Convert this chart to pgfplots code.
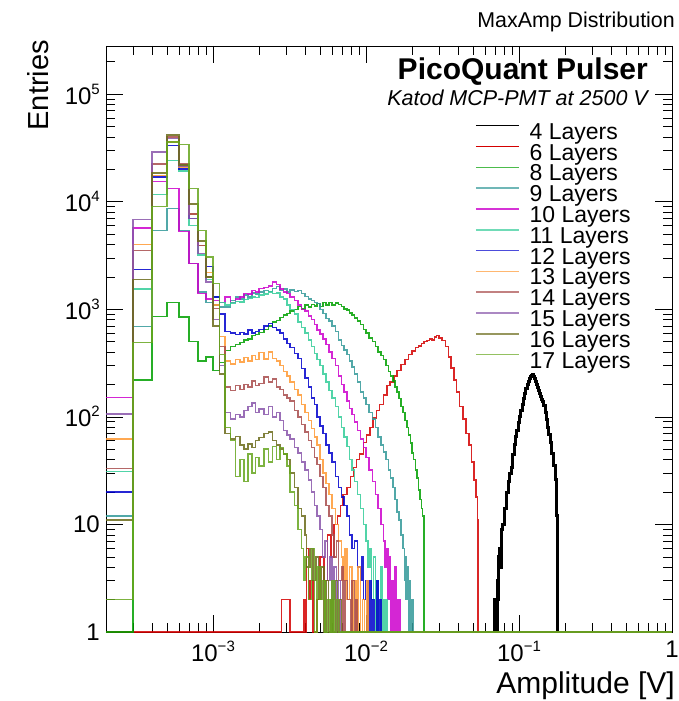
\documentclass[border=0pt]{standalone}
\usepackage{pgfplots}
\pgfplotsset{compat=1.18}
\usepackage{fontspec}
\setmainfont{Liberation Sans}
\definecolor{c4}{HTML}{000000}
\definecolor{c6}{HTML}{D40000}
\definecolor{c8}{HTML}{00A000}
\definecolor{c9}{HTML}{339999}
\definecolor{c10}{HTML}{CC00CC}
\definecolor{c11}{HTML}{33CC99}
\definecolor{c12}{HTML}{0000CC}
\definecolor{c13}{HTML}{FF9933}
\definecolor{c14}{HTML}{A84C4C}
\definecolor{c15}{HTML}{8855AA}
\definecolor{c16}{HTML}{6B6B1A}
\definecolor{c17}{HTML}{66A61E}
\newcommand{\tsup}[1]{\raisebox{0.42em}{\fontsize{15bp}{15bp}\selectfont #1}}
\pgfplotsset{hist/.style={const plot, line width=1.5pt, opacity=0.85, forget plot}}
\begin{document}
\begin{tikzpicture}
\useasboundingbox (-106bp,-69bp) rectangle (573bp,632bp);
\begin{axis}[
  scale only axis, width=566bp, height=586bp,
  xmode=log, ymode=log,
  xmin=2e-4, xmax=1, ymin=1, ymax=2.8e5,
  xtick={1e-3,1e-2,1e-1,1},
  xticklabels={10\tsup{−3},10\tsup{−2},10\tsup{−1},1},
  ytick={1,10,100,1000,10000,100000},
  yticklabels={1,10,10\tsup{2},10\tsup{3},10\tsup{4},10\tsup{5}},
  minor xtick={2e-4,3e-4,4e-4,5e-4,6e-4,7e-4,8e-4,9e-4,2e-3,3e-3,4e-3,5e-3,6e-3,7e-3,8e-3,9e-3,0.02,0.03,0.04,0.05,0.06,0.07,0.08,0.09,0.2,0.3,0.4,0.5,0.6,0.7,0.8,0.9},
  minor ytick={2,3,4,5,6,7,8,9,20,30,40,50,60,70,80,90,200,300,400,500,600,700,800,900,2000,3000,4000,5000,6000,7000,8000,9000,20000,30000,40000,50000,60000,70000,80000,90000,200000},
  tick pos=both, tick align=inside,
  xticklabel pos=lower, yticklabel pos=left,
  major tick length=17bp, minor tick length=9bp,
  every tick/.style={black, line width=0.6pt},
  axis line style={line width=0.8pt},
  ticklabel style={font=\fontsize{24bp}{24bp}\selectfont, inner sep=0pt},
  xticklabel style={yshift=-9bp},
  yticklabel style={xshift=-6bp},
  legend style={at={(0.652,0.868)}, anchor=north west, draw=none, fill=none,
    font=\fontsize{23bp}{23bp}\selectfont, inner sep=0pt, outer sep=0pt,
    row sep=0pt, column sep=10bp,
    nodes={inner sep=0pt, text height=16bp, text depth=4.8bp}},
  legend cell align=left,
  legend image code/.code={\draw[#1] (0bp,8bp) -- (43bp,8bp);},
  legend entries={4 Layers,6 Layers,8 Layers,9 Layers,10 Layers,11 Layers,12 Layers,13 Layers,14 Layers,15 Layers,16 Layers,17 Layers},
]
\addlegendimage{c4, line width=1pt}
\addlegendimage{c6, line width=1.2pt}
\addlegendimage{c8, line width=1.6pt, opacity=0.7}
\addlegendimage{c9, line width=1.6pt, opacity=0.7}
\addlegendimage{c10, line width=1.6pt, opacity=0.8}
\addlegendimage{c11, line width=1.6pt, opacity=0.7}
\addlegendimage{c12, line width=1.6pt, opacity=0.7}
\addlegendimage{c13, line width=1.6pt, opacity=0.7}
\addlegendimage{c14, line width=1.6pt, opacity=0.7}
\addlegendimage{c15, line width=1.6pt, opacity=0.7}
\addlegendimage{c16, line width=1.6pt, opacity=0.7}
\addlegendimage{c17, line width=1.6pt, opacity=0.7}

% 4 Layers
\addplot[hist, c4, line width=3pt, opacity=1] table[row sep=\\, x expr=\thisrowno{0}/1000, y index=1] {
69 1\\ 69.5 2\\ 71 1\\ 72 3\\ 73 2\\ 74 5\\ 75 6\\ 76 4\\ 77 9\\ 78 10\\ 80 12\\ 81 14\\ 83 20\\ 85 25\\ 87 30\\ 89 34\\ 91 45\\ 93 55\\ 95 65\\ 97 75\\ 99 88\\ 101 100\\ 103 115\\ 105 130\\ 107 148\\ 109 165\\ 111 185\\ 113 200\\ 115 215\\ 117 225\\ 119 235\\ 121 240\\ 123 245\\ 125 238\\ 127 228\\ 129 215\\ 131 200\\ 133 188\\ 135 175\\ 137 165\\ 139 155\\ 141 145\\ 143 138\\ 145 128\\ 148 110\\ 151 95\\ 154 80\\ 157 68\\ 160 58\\ 164 46\\ 168 35\\ 172 26\\ 175 18\\ 177 12\\ 178 6\\ 179 1\\
};
% 6 Layers
\addplot[hist, c6] table[row sep=\\, x expr=\thisrowno{0}/1000, y index=1] {
0.2 1\\ 2.8 2\\ 3.2 1\\ 3.9 2\\ 4.0 1\\ 4.1 6\\ 4.2 2\\ 4.3 3\\ 4.5 1\\ 4.8 2\\ 5.0 5\\ 5.3 3\\ 5.6 8\\ 5.9 5\\ 6.2 10\\ 6.5 12\\ 6.8 15\\ 7.1 19\\ 7.5 22\\ 7.9 28\\ 8.3 34\\ 8.7 40\\ 9.1 45\\ 9.6 58\\ 10.1 68\\ 10.6 80\\ 11.1 98\\ 11.7 115\\ 12.3 130\\ 13.0 160\\ 13.7 195\\ 14.4 210\\ 15.2 240\\ 16 270\\ 17 305\\ 18 340\\ 19 380\\ 20 410\\ 21 440\\ 22 455\\ 23 480\\ 24 500\\ 25 515\\ 26 530\\ 27 520\\ 28 550\\ 29 570\\ 30 540\\ 31.5 510\\ 33 450\\ 34.5 360\\ 36 285\\ 37.5 220\\ 39 170\\ 41 125\\ 43 95\\ 45 70\\ 47 55\\ 49 38\\ 51 26\\ 52.5 18\\ 53.5 11\\ 54 1\\ 1000 1\\
};
% 8 Layers
\addplot[hist, c8] table[row sep=\\, x expr=\thisrowno{0}/1000, y index=1] {
0.2 1\\ 0.3 220\\ 0.4 860\\ 0.5 1150\\ 0.6 850\\ 0.7 500\\ 0.8 330\\ 0.9 360\\ 1.0 270\\ 1.1 320\\ 1.2 415\\ 1.3 450\\ 1.4 470\\ 1.5 490\\ 1.6 520\\ 1.7 530\\ 1.8 570\\ 1.9 580\\ 2.0 610\\ 2.15 650\\ 2.3 700\\ 2.45 760\\ 2.6 790\\ 2.75 840\\ 2.9 880\\ 3.05 910\\ 3.2 960\\ 3.4 1000\\ 3.6 1060\\ 3.8 1010\\ 4.0 1090\\ 4.2 1050\\ 4.4 1110\\ 4.6 1070\\ 4.8 1130\\ 5.0 1060\\ 5.25 1150\\ 5.5 1090\\ 5.75 1160\\ 6.0 1100\\ 6.3 1140\\ 6.6 1110\\ 6.9 1060\\ 7.2 1010\\ 7.5 980\\ 7.8 920\\ 8.1 880\\ 8.4 830\\ 8.8 780\\ 9.2 720\\ 9.6 650\\ 10 600\\ 10.5 540\\ 11 500\\ 11.5 450\\ 12 400\\ 12.5 370\\ 13 340\\ 13.5 300\\ 14 265\\ 14.5 240\\ 15 215\\ 15.5 190\\ 16 170\\ 16.5 148\\ 17 125\\ 17.5 110\\ 18 92\\ 18.5 80\\ 19 68\\ 19.5 57\\ 20 46\\ 20.5 40\\ 21 32\\ 21.5 27\\ 22 21\\ 22.5 17\\ 23 14\\ 23.5 12\\ 24 1\\ 1000 1\\
};
% 9 Layers
\addplot[hist, c9] table[row sep=\\, x expr=\thisrowno{0}/1000, y index=1] {
0.2 12\\ 0.3 690\\ 0.4 5400\\ 0.5 8600\\ 0.6 5400\\ 0.7 2650\\ 0.8 1450\\ 0.9 1150\\ 1.0 1100\\ 1.1 1050\\ 1.2 1050\\ 1.3 1200\\ 1.4 1300\\ 1.5 1250\\ 1.6 1350\\ 1.7 1300\\ 1.8 1420\\ 1.9 1380\\ 2.0 1450\\ 2.15 1500\\ 2.3 1470\\ 2.45 1560\\ 2.6 1620\\ 2.75 1500\\ 2.9 1550\\ 3.05 1450\\ 3.2 1510\\ 3.4 1470\\ 3.6 1500\\ 3.8 1400\\ 4.0 1310\\ 4.2 1250\\ 4.4 1200\\ 4.6 1150\\ 4.8 1130\\ 5.0 1000\\ 5.25 910\\ 5.5 820\\ 5.75 780\\ 6.0 700\\ 6.3 620\\ 6.6 520\\ 6.9 460\\ 7.2 420\\ 7.5 380\\ 7.8 330\\ 8.1 290\\ 8.4 250\\ 8.8 210\\ 9.2 170\\ 9.6 150\\ 10 130\\ 10.5 110\\ 11 95\\ 11.5 80\\ 12 65\\ 12.5 55\\ 13 47\\ 13.5 40\\ 14 32\\ 14.5 27\\ 15 22\\ 15.5 17\\ 16 13\\ 16.5 11\\ 17 8\\ 17.5 6\\ 17.8 3\\ 18 5\\ 18.3 2\\ 18.6 4\\ 18.9 1\\ 19.1 3\\ 19.4 1\\ 19.7 2\\ 20.1 1\\ 20.3 2\\ 20.5 1\\ 1000 1\\
};
% 10 Layers
\addplot[hist, c10] table[row sep=\\, x expr=\thisrowno{0}/1000, y index=1] {
0.2 151\\ 0.3 5680\\ 0.4 15400\\ 0.5 13300\\ 0.6 5300\\ 0.7 2660\\ 0.8 1400\\ 0.9 1250\\ 1.0 1200\\ 1.1 1150\\ 1.2 1300\\ 1.3 1150\\ 1.4 1250\\ 1.5 1300\\ 1.6 1400\\ 1.7 1380\\ 1.8 1500\\ 1.9 1450\\ 2.0 1560\\ 2.15 1600\\ 2.3 1650\\ 2.45 1790\\ 2.6 1700\\ 2.75 1550\\ 2.9 1450\\ 3.05 1400\\ 3.2 1300\\ 3.4 1200\\ 3.6 1100\\ 3.8 1000\\ 4.0 960\\ 4.2 870\\ 4.4 800\\ 4.6 720\\ 4.8 640\\ 5.0 590\\ 5.25 530\\ 5.5 470\\ 5.75 400\\ 6.0 350\\ 6.3 300\\ 6.6 240\\ 6.9 200\\ 7.2 170\\ 7.5 140\\ 7.8 120\\ 8.1 105\\ 8.4 90\\ 8.8 75\\ 9.2 62\\ 9.6 52\\ 10 42\\ 10.5 32\\ 11 25\\ 11.5 19\\ 12 14\\ 12.5 10\\ 13 7\\ 13.3 4\\ 13.6 6\\ 13.9 2\\ 14.2 5\\ 14.5 1\\ 14.8 3\\ 15.1 1\\ 15.4 4\\ 15.7 1\\ 16 2\\ 16.3 1\\ 16.5 2\\ 16.7 1\\ 1000 1\\
};
% 11 Layers
\addplot[hist, c11] table[row sep=\\, x expr=\thisrowno{0}/1000, y index=1] {
0.2 31\\ 0.3 1550\\ 0.4 11700\\ 0.5 24100\\ 0.6 19200\\ 0.7 6000\\ 0.8 3200\\ 0.9 1900\\ 1.0 1300\\ 1.1 1150\\ 1.2 1100\\ 1.3 1140\\ 1.4 1180\\ 1.5 1170\\ 1.6 1230\\ 1.7 1260\\ 1.8 1300\\ 1.9 1280\\ 2.0 1350\\ 2.15 1380\\ 2.3 1440\\ 2.45 1400\\ 2.6 1420\\ 2.75 1300\\ 2.9 1250\\ 3.05 1100\\ 3.2 1000\\ 3.4 900\\ 3.6 760\\ 3.8 680\\ 4.0 600\\ 4.2 520\\ 4.4 450\\ 4.6 390\\ 4.8 340\\ 5.0 300\\ 5.25 250\\ 5.5 210\\ 5.75 175\\ 6.0 150\\ 6.3 125\\ 6.6 100\\ 6.9 80\\ 7.2 65\\ 7.5 53\\ 7.8 40\\ 8.1 32\\ 8.4 25\\ 8.8 19\\ 9.2 14\\ 9.6 10\\ 10 7\\ 10.3 4\\ 10.6 6\\ 10.9 2\\ 11.2 5\\ 11.5 1\\ 11.8 3\\ 12.1 1\\ 12.4 4\\ 12.7 1\\ 13 2\\ 13.3 1\\ 13.6 2\\ 13.8 1\\ 1000 1\\
};
% 12 Layers
\addplot[hist, c12] table[row sep=\\, x expr=\thisrowno{0}/1000, y index=1] {
0.2 20\\ 0.3 2340\\ 0.4 16900\\ 0.5 33200\\ 0.6 20200\\ 0.7 7000\\ 0.8 3900\\ 0.9 2500\\ 1.0 1300\\ 1.1 900\\ 1.2 620\\ 1.3 600\\ 1.4 580\\ 1.5 610\\ 1.6 590\\ 1.7 640\\ 1.8 600\\ 1.9 620\\ 2.0 650\\ 2.15 700\\ 2.3 740\\ 2.45 680\\ 2.6 640\\ 2.75 600\\ 2.9 530\\ 3.05 480\\ 3.2 440\\ 3.4 390\\ 3.6 350\\ 3.8 280\\ 4.0 230\\ 4.2 190\\ 4.4 150\\ 4.6 130\\ 4.8 100\\ 5.0 82\\ 5.25 70\\ 5.5 55\\ 5.75 46\\ 6.0 38\\ 6.3 28\\ 6.6 22\\ 6.9 18\\ 7.2 15\\ 7.5 12\\ 7.8 8\\ 8.1 6\\ 8.4 7\\ 8.8 4\\ 9.2 3\\ 9.4 5\\ 9.6 2\\ 9.9 3\\ 10.2 1\\ 10.5 3\\ 10.8 1\\ 11.1 2\\ 11.4 1\\ 11.7 3\\ 12 1\\ 12.3 2\\ 12.5 1\\ 1000 1\\
};
% 13 Layers
\addplot[hist, c13] table[row sep=\\, x expr=\thisrowno{0}/1000, y index=1] {
0.2 62\\ 0.3 4000\\ 0.4 17500\\ 0.5 36000\\ 0.6 21000\\ 0.7 7700\\ 0.8 3900\\ 0.9 2200\\ 1.0 1100\\ 1.1 560\\ 1.2 330\\ 1.3 310\\ 1.4 340\\ 1.5 325\\ 1.6 355\\ 1.7 330\\ 1.8 370\\ 1.9 340\\ 2.0 395\\ 2.15 345\\ 2.3 400\\ 2.45 350\\ 2.6 330\\ 2.75 300\\ 2.9 265\\ 3.05 240\\ 3.2 210\\ 3.4 180\\ 3.6 160\\ 3.8 130\\ 4.0 110\\ 4.2 92\\ 4.4 78\\ 4.6 65\\ 4.8 55\\ 5.0 40\\ 5.25 30\\ 5.5 24\\ 5.75 19\\ 6.0 14\\ 6.3 10\\ 6.6 7\\ 6.9 5\\ 7.1 3\\ 7.3 6\\ 7.5 2\\ 7.8 4\\ 8.1 1\\ 8.3 3\\ 8.6 1\\ 8.9 4\\ 9.2 1\\ 9.5 2\\ 9.8 1\\ 10.1 3\\ 10.3 1\\ 1000 1\\
};
% 14 Layers
\addplot[hist, c14] table[row sep=\\, x expr=\thisrowno{0}/1000, y index=1] {
0.2 33\\ 0.3 3520\\ 0.4 22500\\ 0.5 40000\\ 0.6 22500\\ 0.7 7700\\ 0.8 3900\\ 0.9 2000\\ 1.0 1020\\ 1.1 450\\ 1.2 190\\ 1.3 175\\ 1.4 195\\ 1.5 180\\ 1.6 200\\ 1.7 190\\ 1.8 215\\ 1.9 195\\ 2.0 205\\ 2.15 235\\ 2.3 210\\ 2.45 225\\ 2.6 190\\ 2.75 180\\ 2.9 160\\ 3.05 150\\ 3.2 140\\ 3.4 115\\ 3.6 100\\ 3.8 85\\ 4.0 72\\ 4.2 60\\ 4.4 52\\ 4.6 42\\ 4.8 36\\ 5.0 28\\ 5.25 22\\ 5.5 15\\ 5.75 12\\ 6.0 8\\ 6.2 5\\ 6.4 7\\ 6.6 3\\ 6.9 4\\ 7.1 1\\ 7.3 3\\ 7.6 2\\ 7.9 1\\ 8.1 3\\ 8.4 1\\ 8.6 2\\ 8.8 1\\ 1000 1\\
};
% 15 Layers
\addplot[hist, c15] table[row sep=\\, x expr=\thisrowno{0}/1000, y index=1] {
0.2 106\\ 0.3 6800\\ 0.4 29000\\ 0.5 38600\\ 0.6 21500\\ 0.7 7000\\ 0.8 3300\\ 0.9 1800\\ 1.0 800\\ 1.1 300\\ 1.2 110\\ 1.3 95\\ 1.4 105\\ 1.5 100\\ 1.6 115\\ 1.7 125\\ 1.8 134\\ 1.9 110\\ 2.0 118\\ 2.15 105\\ 2.3 125\\ 2.45 100\\ 2.6 110\\ 2.75 92\\ 2.9 75\\ 3.05 68\\ 3.2 62\\ 3.4 52\\ 3.6 46\\ 3.8 38\\ 4.0 32\\ 4.2 26\\ 4.4 20\\ 4.6 15\\ 4.8 12\\ 5.0 9\\ 5.2 5\\ 5.4 7\\ 5.6 3\\ 5.8 5\\ 6.0 2\\ 6.2 4\\ 6.4 1\\ 6.6 3\\ 6.8 1\\ 1000 1\\
};
% 16 Layers
\addplot[hist, c16] table[row sep=\\, x expr=\thisrowno{0}/1000, y index=1] {
0.2 11\\ 0.3 1900\\ 0.4 18400\\ 0.5 41800\\ 0.6 22000\\ 0.7 9550\\ 0.8 4300\\ 0.9 2000\\ 1.0 700\\ 1.1 250\\ 1.2 70\\ 1.3 62\\ 1.4 66\\ 1.5 55\\ 1.6 50\\ 1.7 56\\ 1.8 52\\ 1.9 60\\ 2.0 64\\ 2.15 70\\ 2.3 72\\ 2.45 60\\ 2.6 55\\ 2.75 50\\ 2.9 45\\ 3.05 40\\ 3.2 30\\ 3.4 22\\ 3.6 14\\ 3.8 12\\ 4.0 8\\ 4.1 4\\ 4.3 6\\ 4.5 3\\ 4.7 5\\ 4.9 2\\ 5.1 4\\ 5.3 1\\ 5.5 3\\ 5.7 1\\ 5.9 2\\ 6.1 1\\ 6.3 3\\ 6.5 1\\ 6.7 2\\ 6.9 1\\ 1000 1\\
};
% 17 Layers
\addplot[hist, c17] table[row sep=\\, x expr=\thisrowno{0}/1000, y index=1] {
0.2 2\\ 0.3 493\\ 0.4 9000\\ 0.5 36000\\ 0.6 34000\\ 0.7 13200\\ 0.8 5400\\ 0.9 3060\\ 1.0 1730\\ 1.1 380\\ 1.2 80\\ 1.3 60\\ 1.4 28\\ 1.5 40\\ 1.6 25\\ 1.7 45\\ 1.8 30\\ 1.9 42\\ 2.0 35\\ 2.15 50\\ 2.3 38\\ 2.45 53\\ 2.6 40\\ 2.75 52\\ 2.9 45\\ 3.05 35\\ 3.2 20\\ 3.4 15\\ 3.6 9\\ 3.8 6\\ 3.9 3\\ 4.0 5\\ 4.2 2\\ 4.4 6\\ 4.6 1\\ 4.8 4\\ 5.0 2\\ 5.2 3\\ 5.4 1\\ 5.6 2\\ 5.8 1\\ 6.0 3\\ 6.2 1\\ 6.4 2\\ 6.6 1\\ 1000 1\\
};
\end{axis}
\node[anchor=east, inner sep=0pt, font=\fontsize{21.4bp}{21.4bp}\selectfont] at (569bp,610bp) {MaxAmp Distribution};
\node[anchor=east, inner sep=0pt, font=\bfseries\fontsize{30bp}{30bp}\selectfont] at (542bp,560bp) {PicoQuant Pulser};
\node[anchor=east, inner sep=0pt, font=\itshape\fontsize{21.5bp}{21.5bp}\selectfont] at (542bp,534bp) {Katod MCP-PMT at 2500 V};
\node[anchor=east, rotate=90, inner sep=0pt, font=\fontsize{29bp}{29bp}\selectfont] at (-68bp,592bp) {Entries};
\node[anchor=east, inner sep=0pt, font=\fontsize{30bp}{30bp}\selectfont] at (569bp,-54bp) {Amplitude [V]};
\end{tikzpicture}
\end{document}
